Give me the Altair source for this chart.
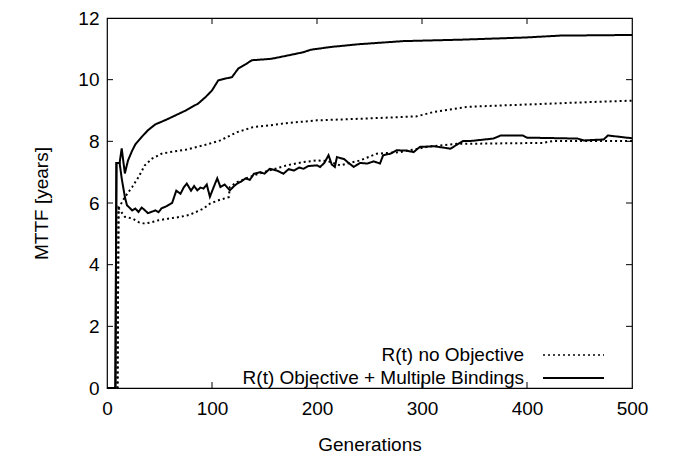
import altair as alt
import pandas as pd

# ---- data ----
s_max_gen = [0, 8, 9, 12, 14, 17, 20, 24, 27, 33, 39, 46, 55, 62, 70, 75, 87, 94, 100, 106, 112, 119, 125, 132, 138, 150, 157, 173, 187, 194, 213, 240, 282, 340, 400, 432, 470, 500]
s_max_val = [0, 0, 7.3, 7.3, 7.77, 6.96, 7.38, 7.7, 7.9, 8.14, 8.36, 8.55, 8.68, 8.79, 8.92, 9.0, 9.23, 9.44, 9.65, 9.98, 10.03, 10.08, 10.36, 10.5, 10.63, 10.66, 10.68, 10.79, 10.89, 10.97, 11.06, 11.15, 11.25, 11.3, 11.37, 11.43, 11.44, 11.45]

d_max_gen = [0, 10, 11, 17, 24, 30, 36, 43, 52, 60, 75, 92, 108, 124, 139, 155, 171, 200, 247, 295, 311, 343, 420, 457, 500]
d_max_val = [0, 0, 5.83, 6.19, 6.52, 6.84, 7.22, 7.44, 7.6, 7.65, 7.73, 7.87, 8.03, 8.3, 8.46, 8.52, 8.59, 8.68, 8.74, 8.81, 8.95, 9.12, 9.22, 9.27, 9.32]

s_mean_gen = [0, 8, 9, 12, 14, 17, 19, 24, 27, 30, 33, 35, 39, 43, 46, 49, 52, 57, 62, 66, 70, 73, 76, 80, 83, 86, 89, 92, 95, 98, 102, 105, 108, 112, 117, 121, 124, 128, 132, 136, 140, 146, 150, 155, 162, 168, 173, 178, 183, 187, 192, 200, 203, 207, 211, 214, 217, 219, 226, 230, 235, 241, 248, 254, 260, 263, 270, 276, 285, 292, 298, 311, 320, 327, 339, 346, 368, 375, 396, 400, 448, 454, 473, 477, 500]
s_mean_val = [0, 0, 7.3, 7.3, 6.8, 6.2, 5.93, 5.76, 5.82, 5.71, 5.85, 5.8, 5.67, 5.72, 5.76, 5.7, 5.83, 5.9, 6.0, 6.4, 6.3, 6.5, 6.63, 6.4, 6.55, 6.41, 6.5, 6.47, 6.6, 6.2, 6.55, 6.8, 6.52, 6.6, 6.41, 6.55, 6.63, 6.7, 6.8, 6.75, 6.95, 7.0, 6.95, 7.11, 7.05, 6.95, 7.1, 7.05, 7.15, 7.11, 7.2, 7.22, 7.17, 7.3, 7.55, 7.25, 7.17, 7.49, 7.42, 7.3, 7.17, 7.3, 7.28, 7.35, 7.28, 7.55, 7.6, 7.71, 7.7, 7.65, 7.82, 7.84, 7.8, 7.76, 8.01, 8.01, 8.09, 8.19, 8.19, 8.12, 8.09, 8.03, 8.06, 8.19, 8.1]

d_mean_gen = [0, 10, 11, 17, 24, 30, 36, 43, 49, 58, 70, 79, 92, 98, 108, 116, 117, 124, 140, 155, 171, 187, 200, 210, 222, 241, 257, 279, 305, 333, 343, 415, 425, 500]
d_mean_val = [0, 0, 5.83, 5.55, 5.5, 5.38, 5.33, 5.38, 5.44, 5.49, 5.55, 5.62, 5.82, 5.98, 6.11, 6.19, 6.52, 6.68, 6.9, 7.06, 7.22, 7.33, 7.38, 7.36, 7.22, 7.38, 7.6, 7.65, 7.82, 7.92, 7.92, 7.95, 8.01, 8.01]

legend_labels = ["R(t) no Objective", "R(t) Objective + Multiple Bindings"]
x_ticks = [0, 100, 200, 300, 400, 500]
y_ticks = [0, 2, 4, 6, 8, 10, 12]

# ---- build table ----
frames = []
for name, style, g, v in [
    ("s_max", "solid", s_max_gen, s_max_val),
    ("d_max", "dotted", d_max_gen, d_max_val),
    ("s_mean", "solid", s_mean_gen, s_mean_val),
    ("d_mean", "dotted", d_mean_gen, d_mean_val),
]:
    frames.append(pd.DataFrame({"gen": g, "val": v, "series": name, "style": style}))
df = pd.concat(frames, ignore_index=True)

W, H = 525, 370
FONT = "Liberation Sans"
FS = 19
TL = 6

xscale = alt.Scale(domain=[0, 500], nice=False, zero=False)
yscale = alt.Scale(domain=[0, 12], nice=False)
dash_scale = alt.Scale(domain=["dotted", "solid"], range=[[2, 3], [1, 0]])

lines = alt.Chart(df).mark_line(color="black", strokeWidth=2, clip=True).encode(
    x=alt.X("gen:Q", scale=xscale,
            axis=alt.Axis(values=x_ticks, title="Generations", grid=False, ticks=False, tickSize=0,
                          domain=False, labelPadding=11, labelFontSize=FS, labelFont=FONT,
                          labelColor="black", titleFontSize=FS, titleFont=FONT,
                          titleFontWeight="normal", titleColor="black",
                          titleY=56, titleBaseline="middle", labelFlush=False)),
    y=alt.Y("val:Q", scale=yscale,
            axis=alt.Axis(values=y_ticks, title="MTTF [years]", grid=False, ticks=False, tickSize=0,
                          domain=False, labelPadding=8, labelFontSize=FS, labelFont=FONT,
                          labelColor="black", titleFontSize=FS, titleFont=FONT,
                          titleFontWeight="normal", titleColor="black",
                          titleX=-66, titleY=H / 2, titleAngle=270, titleAlign="center",
                          titleBaseline="middle", labelFlush=False)),
    detail="series:N",
    strokeDash=alt.StrokeDash("style:N", scale=dash_scale, legend=None),
)

xt = pd.DataFrame({"t": x_ticks[1:-1]})
yt = pd.DataFrame({"t": y_ticks[1:-1]})

xt_bottom = alt.Chart(xt).mark_rule(color="black", strokeWidth=1).encode(
    x=alt.X("t:Q", scale=xscale), y=alt.value(H), y2=alt.value(H - TL))
xt_top = alt.Chart(xt).mark_rule(color="black", strokeWidth=1).encode(
    x=alt.X("t:Q", scale=xscale), y=alt.value(0), y2=alt.value(TL))
yt_left = alt.Chart(yt).mark_rule(color="black", strokeWidth=1).encode(
    y=alt.Y("t:Q", scale=yscale), x=alt.value(0), x2=alt.value(TL))
yt_right = alt.Chart(yt).mark_rule(color="black", strokeWidth=1).encode(
    y=alt.Y("t:Q", scale=yscale), x=alt.value(W), x2=alt.value(W - TL))

leg_df = pd.DataFrame({"label": legend_labels, "style": ["dotted", "solid"]})
row_y = [337, 360]
legend_layers = []
for i in range(2):
    sub = leg_df.iloc[[i]]
    legend_layers.append(
        alt.Chart(sub).mark_text(align="right", baseline="middle", font=FONT, fontSize=FS,
                                 color="black").encode(
            text="label:N", x=alt.value(417), y=alt.value(row_y[i])))
    legend_layers.append(
        alt.Chart(sub).mark_rule(color="black", strokeWidth=2 if i == 1 else 1.3).encode(
            x=alt.value(436), x2=alt.value(497), y=alt.value(row_y[i]),
            strokeDash=alt.StrokeDash("style:N", scale=dash_scale, legend=None)))

chart = alt.layer(lines, xt_bottom, xt_top, yt_left, yt_right, *legend_layers).properties(
    width=W, height=H,
    autosize=alt.AutoSizeParams(type="none"),
    padding={"left": 99, "top": 10, "right": 40, "bottom": 70},
    background="white",
).configure_view(stroke="black", strokeWidth=1.2)

chart.save("out.html", embed_options={"renderer": "svg", "actions": False})
